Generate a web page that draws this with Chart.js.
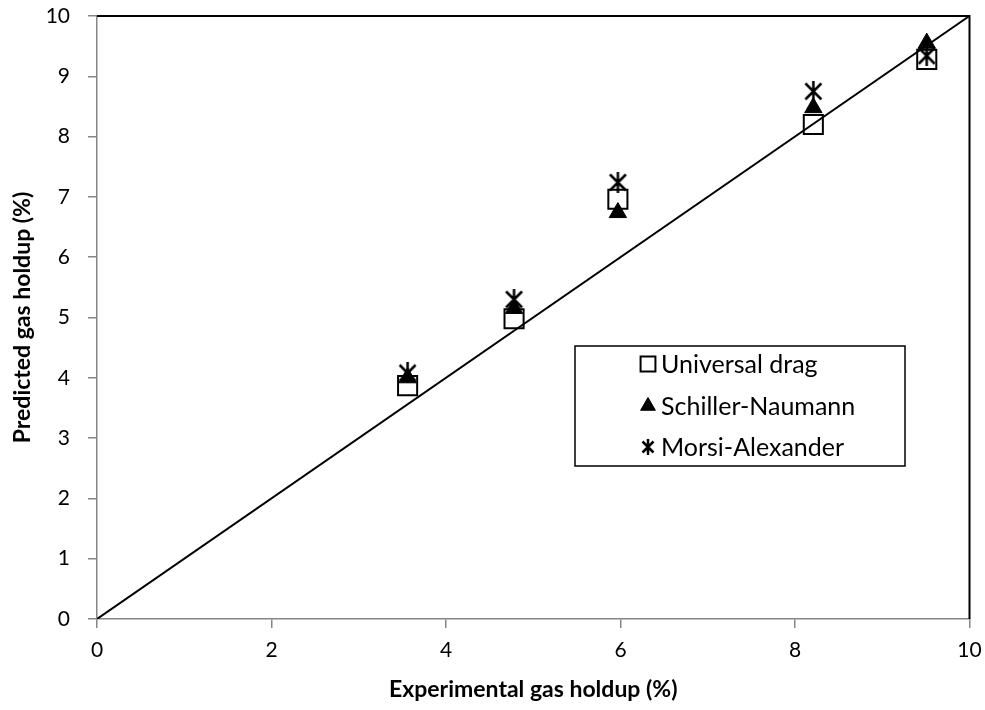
<!DOCTYPE html>
<html>
<head>
<meta charset="utf-8">
<script src="https://cdn.jsdelivr.net/npm/chart.js@4.4.1/dist/chart.umd.min.js"></script>
<style>
  html, body { margin: 0; padding: 0; background: #fff; }
  #wrap { width: 985px; height: 710px; }
</style>
</head>
<body>
<div id="wrap"><canvas id="holdupChart" width="985" height="710"></canvas></div>
<script>
// experimental gas holdup (%) for the five runs
const experimental = [3.56, 4.78, 5.97, 8.21, 9.51];
// predicted holdup (%) for each drag model
const universalDrag = [3.87, 4.98, 6.96, 8.20, 9.28];
const schillerNaumann = [4.00, 5.15, 6.74, 8.48, 9.55];
const morsiAlexander = [4.08, 5.30, 7.24, 8.75, 9.34];
// parity line
const parityLine = [0, 10];
const tickLabels = [0, 2, 4, 6, 8, 10];

const FONT = 'Lato, "Open Sans", sans-serif';
Chart.defaults.font.family = FONT;
Chart.defaults.color = '#000';

function pairs(xs, ys) {
    return xs.map((x, i) => ({ x: x, y: ys[i] }));
}

// asterisk marker: two diagonals plus a vertical stroke
function makeStar(size, lw) {
    const c = document.createElement('canvas');
    c.width = size;
    c.height = size;
    const g = c.getContext('2d');
    const m = lw;
    g.strokeStyle = '#000';
    g.lineWidth = lw;
    g.beginPath();
    g.moveTo(m, m); g.lineTo(size - m, size - m);
    g.moveTo(size - m, m); g.lineTo(m, size - m);
    g.moveTo(size / 2, 0); g.lineTo(size / 2, size);
    g.stroke();
    return c;
}
const starBig = makeStar(21, 2.5);
const starSmall = makeStar(16, 2.5);

// boxed legend sitting inside the plot area
const boxLegend = {
    id: 'boxLegend',
    afterDraw(chart) {
        const ctx = chart.ctx;
        const x0 = 575, y0 = 346, w = 330, h = 120;
        ctx.save();
        ctx.fillStyle = '#fff';
        ctx.fillRect(x0, y0, w, h);
        ctx.strokeStyle = '#000';
        ctx.lineWidth = 1.5;
        ctx.strokeRect(x0, y0, w, h);
        ctx.font = '25px ' + FONT;
        ctx.textBaseline = 'middle';
        const rows = [364, 406, 447];
        const items = chart.data.datasets.filter(d => d.inLegend);
        items.forEach((d, i) => {
            const opts = {
                pointStyle: d.legendStyle,
                radius: d.legendRadius,
                borderWidth: d.borderWidth,
                rotation: 0
            };
            ctx.strokeStyle = '#000';
            ctx.fillStyle = d.backgroundColor;
            ctx.lineWidth = d.borderWidth;
            Chart.helpers.drawPoint(ctx, opts, 648, rows[i]);
            ctx.fillStyle = '#000';
            ctx.fillText(d.label, 661, rows[i] + 1);
        });
        ctx.restore();
    }
};

// black frame on the top and right of the plot area
const frame = {
    id: 'frame',
    beforeDatasetsDraw(chart) {
        const a = chart.chartArea;
        const ctx = chart.ctx;
        ctx.save();
        ctx.strokeStyle = '#000';
        ctx.lineWidth = 2;
        ctx.beginPath();
        ctx.moveTo(a.left, a.top);
        ctx.lineTo(a.right, a.top);
        ctx.lineTo(a.right, a.bottom);
        ctx.stroke();
        ctx.restore();
    }
};

new Chart(document.getElementById('holdupChart'), {
    type: 'scatter',
    data: {
        datasets: [
            {
                label: 'Universal drag',
                data: pairs(experimental, universalDrag),
                pointStyle: 'rect',
                pointRadius: 13.5,
                borderWidth: 2,
                borderColor: '#000',
                backgroundColor: 'rgba(0,0,0,0)',
                inLegend: true,
                legendStyle: 'rect',
                legendRadius: 10.5,
                order: 3
            },
            {
                label: 'Schiller-Naumann',
                data: pairs(experimental, schillerNaumann),
                pointStyle: 'triangle',
                pointRadius: 10,
                borderWidth: 1,
                borderColor: '#000',
                backgroundColor: '#000',
                inLegend: true,
                legendStyle: 'triangle',
                legendRadius: 8.5,
                order: 2
            },
            {
                label: 'Morsi-Alexander',
                data: pairs(experimental, morsiAlexander),
                pointStyle: starBig,
                pointRadius: 10,
                borderWidth: 2,
                borderColor: '#000',
                backgroundColor: '#000',
                inLegend: true,
                legendStyle: starSmall,
                legendRadius: 8,
                order: 1
            },
            {
                type: 'line',
                label: 'Parity',
                data: pairs(parityLine, parityLine),
                borderColor: '#000',
                borderWidth: 2,
                pointRadius: 0,
                fill: false,
                order: 0
            }
        ]
    },
    options: {
        responsive: false,
        animation: false,
        events: [],
        layout: { padding: { top: 16, right: 15, left: 0, bottom: 0 } },
        plugins: {
            legend: { display: false },
            tooltip: { enabled: false }
        },
        scales: {
            x: {
                type: 'linear',
                min: 0,
                max: 10,
                afterFit: s => {
                    s.height = 91;
                    s.paddingLeft = 0;
                    s.paddingRight = 0;
                },
                afterBuildTicks: s => { s.ticks = tickLabels.map(v => ({ value: v })); },
                ticks: { font: { size: 21 }, padding: 10, color: '#000' },
                grid: { drawOnChartArea: false, tickLength: 9, color: '#868686', lineWidth: 1.5 },
                border: { color: '#868686', width: 1.5 },
                title: {
                    display: true,
                    text: 'Experimental gas holdup (%)',
                    font: { size: 23, weight: 'bold' },
                    padding: { top: 4, bottom: 7 }
                }
            },
            y: {
                min: 0,
                max: 10,
                afterFit: s => {
                    s.width = 97;
                    s.paddingTop = 0;
                    s.paddingBottom = 0;
                },
                ticks: { stepSize: 1, font: { size: 21 }, padding: 18, color: '#000' },
                grid: { drawOnChartArea: false, tickLength: 9, color: '#868686', lineWidth: 1.5 },
                border: { color: '#868686', width: 1.5 },
                title: {
                    display: true,
                    text: 'Predicted gas holdup (%)',
                    font: { size: 23, weight: 'bold' },
                    padding: { top: 9, bottom: 4 }
                }
            }
        }
    },
    plugins: [frame, boxLegend]
});
</script>
</body>
</html>
